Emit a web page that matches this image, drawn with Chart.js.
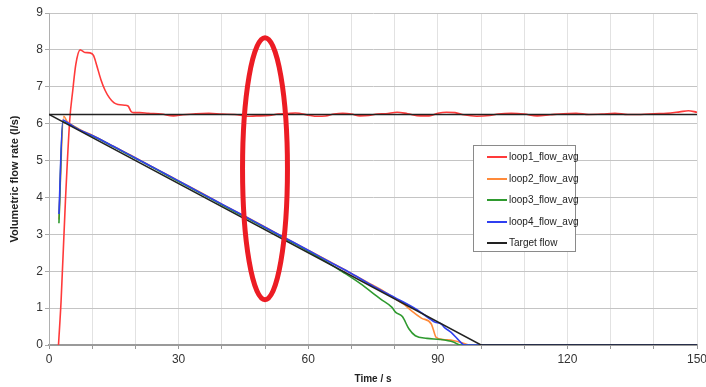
<!DOCTYPE html>
<html>
<head>
<meta charset="utf-8">
<script src="https://cdn.jsdelivr.net/npm/chart.js@4/dist/chart.umd.min.js"></script>
<style>
  html, body { margin: 0; padding: 0; background: #fff; }
  #wrap { position: relative; width: 706px; height: 387px; }
  #legend {
    position: absolute; left: 473px; top: 145px; width: 103px; height: 107px;
    border: 1px solid #8a8a8a; background: #fff; box-sizing: border-box;
    font-family: "Liberation Sans Narrow", "Arial Narrow", "Liberation Sans", sans-serif;
    font-size: 10px; color: #222; padding-top: 4px;
  }
  #legend .row { position: relative; height: 21.6px; line-height: 13px; }
  #legend .swatch { position: absolute; left: 13px; top: 6px; width: 20px; height: 2px; }
  #legend .txt { position: absolute; left: 35px; top: 0; white-space: nowrap; }
</style>
</head>
<body>
<div id="wrap">
  <canvas id="c" width="706" height="387"></canvas>
  <div id="legend"></div>
</div>
<script>
// Flow measurements (time in s, flow in l/s)
const loop1 = [
  [2.2,0],[2.8,1.2],[3.8,3.9],[4.8,6.1],[5.5,6.9],[6.2,7.6],[7.2,8.0],[7.6,7.98],[8.3,7.93],
  [9.5,7.92],[10.3,7.85],[11,7.6],[12,7.2],[13,6.9],[14,6.7],[15,6.57],[16,6.52],[17.5,6.5],
  [18.3,6.48],[19,6.33],[19.6,6.3],[21,6.3],[23,6.28],[26,6.26],[28.8,6.21],[31,6.24],[34,6.27],
  [37,6.28],[40,6.26],[43,6.25],[46,6.2],[48,6.21],[51,6.22],[53,6.26],[55,6.27],[57,6.29],
  [60.5,6.22],[62,6.2],[64,6.21],[66,6.26],[68,6.28],[70,6.26],[72,6.21],[74,6.22],[76,6.26],
  [78,6.27],[80.6,6.31],[83,6.27],[86,6.21],[88,6.21],[90,6.28],[92,6.31],[94,6.3],[96,6.24],
  [99,6.2],[102,6.22],[104,6.26],[107,6.28],[110,6.26],[113,6.21],[116,6.24],[119,6.27],
  [122,6.28],[125,6.25],[128,6.26],[131,6.28],[134,6.25],[137,6.25],[140,6.27],[143,6.28],
  [146,6.32],[148,6.35],[150,6.31]
];
const loop2 = [
  [2.3,3.4],[3.4,6.2],[4.2,6.06],[6,5.92],[8,5.79],[10,5.69],[15,5.38],[20,5.08],[25,4.76],
  [30,4.45],[35,4.14],[40,3.82],[45,3.51],[50,3.2],[55,2.88],[60,2.57],[65,2.26],[70,1.94],
  [75,1.62],[78,1.42],[81.4,1.16],[82.2,1.1],[84,0.92],[86.2,0.73],[88.5,0.57],[88.9,0.44],
  [89.6,0.21],[91.2,0.15],[93.5,0.12],[95.9,0.05],[97.4,0],[150,0]
];
const loop3 = [
  [2.3,3.3],[3.2,6.05],[4,6.02],[6,5.9],[8,5.77],[10,5.67],[15,5.37],[20,5.06],[25,4.75],
  [30,4.43],[35,4.12],[40,3.8],[45,3.49],[50,3.18],[55,2.86],[60,2.54],[65,2.2],[68,1.98],
  [72,1.67],[76.7,1.25],[79.4,1.02],[80.2,0.89],[81.8,0.77],[83.3,0.44],[84.8,0.25],
  [87.5,0.18],[90.5,0.15],[93.6,0.08],[95.2,0],[150,0]
];
const loop4 = [
  [2.3,3.55],[3.2,6.1],[4,6.05],[6,5.9],[8,5.78],[10,5.68],[15,5.38],[20,5.07],[25,4.76],
  [30,4.45],[35,4.13],[40,3.82],[45,3.51],[50,3.19],[55,2.88],[60,2.57],[65,2.25],[70,1.94],
  [75,1.6],[80,1.29],[85,0.97],[88.5,0.68],[89.3,0.62],[90.8,0.57],[91.5,0.48],[93.1,0.34],
  [94.6,0.16],[96.2,0],[150,0]
];
// Target flow: constant set point and linear ramp-down
const targetConst = [[0,6.25],[150,6.25]];
const targetRamp = [[0,6.25],[100,0],[150,0]];

const xTicksLabelled = [0,30,60,90,120,150];
const seriesNames = ["loop1_flow_avg","loop2_flow_avg","loop3_flow_avg","loop4_flow_avg","Target flow"];
const seriesColors = ["#ff3a3a","#ff8a3a","#2f9a2f","#2f3ff0","#222222"];

// Highlighted region (data units): centre time/flow and radii
const highlight = { t: 50, q: 4.78, rt: 5.2, rq: 3.55 };

const toXY = arr => arr.map(p => ({x: p[0], y: p[1]}));
const FONT = '"Liberation Sans Narrow", "Arial Narrow", "Liberation Sans", sans-serif';

// later series are painted over earlier ones (lower order = drawn on top)
function lineSet(label, data, color, width, smooth, order) {
  return {
    label, data: toXY(data), borderColor: color, backgroundColor: color,
    borderWidth: width, pointRadius: 0, fill: false, order,
    tension: smooth ? 0.35 : 0, cubicInterpolationMode: smooth ? 'monotone' : 'default'
  };
}

const datasets = [
  lineSet(seriesNames[0], loop1, seriesColors[0], 1.6, true, 5),
  lineSet(seriesNames[1], loop2, seriesColors[1], 1.6, true, 4),
  lineSet(seriesNames[2], loop3, seriesColors[2], 1.6, true, 3),
  lineSet(seriesNames[3], loop4, seriesColors[3], 1.6, true, 2),
  lineSet(seriesNames[4], targetConst, seriesColors[4], 1.5, false, 1),
  Object.assign(lineSet(seriesNames[4], targetRamp, seriesColors[4], 1.5, false, 0), {hideInLegend: true})
];

const ellipsePlugin = {
  id: 'highlightEllipse',
  afterDatasetsDraw(chart) {
    const {ctx, scales: {x, y}} = chart;
    const cx = x.getPixelForValue(highlight.t);
    const cy = y.getPixelForValue(highlight.q);
    const rx = Math.abs(x.getPixelForValue(highlight.t + highlight.rt) - cx);
    const ry = Math.abs(y.getPixelForValue(highlight.q + highlight.rq) - cy);
    ctx.save();
    ctx.beginPath();
    ctx.ellipse(cx, cy, rx, ry, 0, 0, Math.PI * 2);
    ctx.lineWidth = 5;
    ctx.strokeStyle = '#ec1c24';
    ctx.stroke();
    ctx.restore();
  }
};

const chart = new Chart(document.getElementById('c'), {
  type: 'line',
  data: { datasets },
  options: {
    responsive: false,
    animation: false,
    layout: { padding: { top: 13, right: 0, left: 0, bottom: 0 } },
    plugins: { legend: { display: false }, tooltip: { enabled: false } },
    scales: {
      x: {
        type: 'linear', min: 0, max: 150,
        ticks: {
          stepSize: 10, autoSkip: false, maxRotation: 0, padding: 3,
          color: '#333', font: { family: FONT, size: 12 },
          callback: v => xTicksLabelled.includes(v) ? String(v) : ''
        },
        grid: { color: '#e2e2e2', lineWidth: 1, tickLength: 4, tickColor: '#999' },
        border: { color: '#9a9a9a', width: 2 },
        title: { display: true, text: 'Time / s', color: '#222',
          font: { family: '"Liberation Sans", Arial, sans-serif', size: 10, weight: 'bold' },
          padding: { top: 0, bottom: 2 } },
        afterFit: s => { s.height = 42; s.paddingLeft = 0; s.paddingRight = 9; }
      },
      y: {
        min: 0, max: 9,
        ticks: { stepSize: 1, padding: 2, color: '#333', font: { family: FONT, size: 12 } },
        grid: { color: '#c4c4c4', lineWidth: 1, tickLength: 4, tickColor: '#aaa' },
        border: { color: '#b0b0b0', width: 1 },
        title: { display: true, text: 'Volumetric flow rate (l/s)', color: '#222',
          font: { family: '"Liberation Sans", Arial, sans-serif', size: 11, weight: 'bold' },
          padding: { top: 8, bottom: 0 } },
        afterFit: s => { s.width = 49; s.paddingTop = 0; s.paddingBottom = 0; }
      }
    }
  },
  plugins: [ellipsePlugin]
});

// Legend built from the chart's datasets
const legendEl = document.getElementById('legend');
chart.data.datasets.forEach(ds => {
  if (ds.hideInLegend) return;
  const row = document.createElement('div');
  row.className = 'row';
  const sw = document.createElement('span');
  sw.className = 'swatch';
  sw.style.background = ds.borderColor;
  const tx = document.createElement('span');
  tx.className = 'txt';
  tx.textContent = ds.label;
  row.appendChild(sw); row.appendChild(tx);
  legendEl.appendChild(row);
});
</script>
</body>
</html>
